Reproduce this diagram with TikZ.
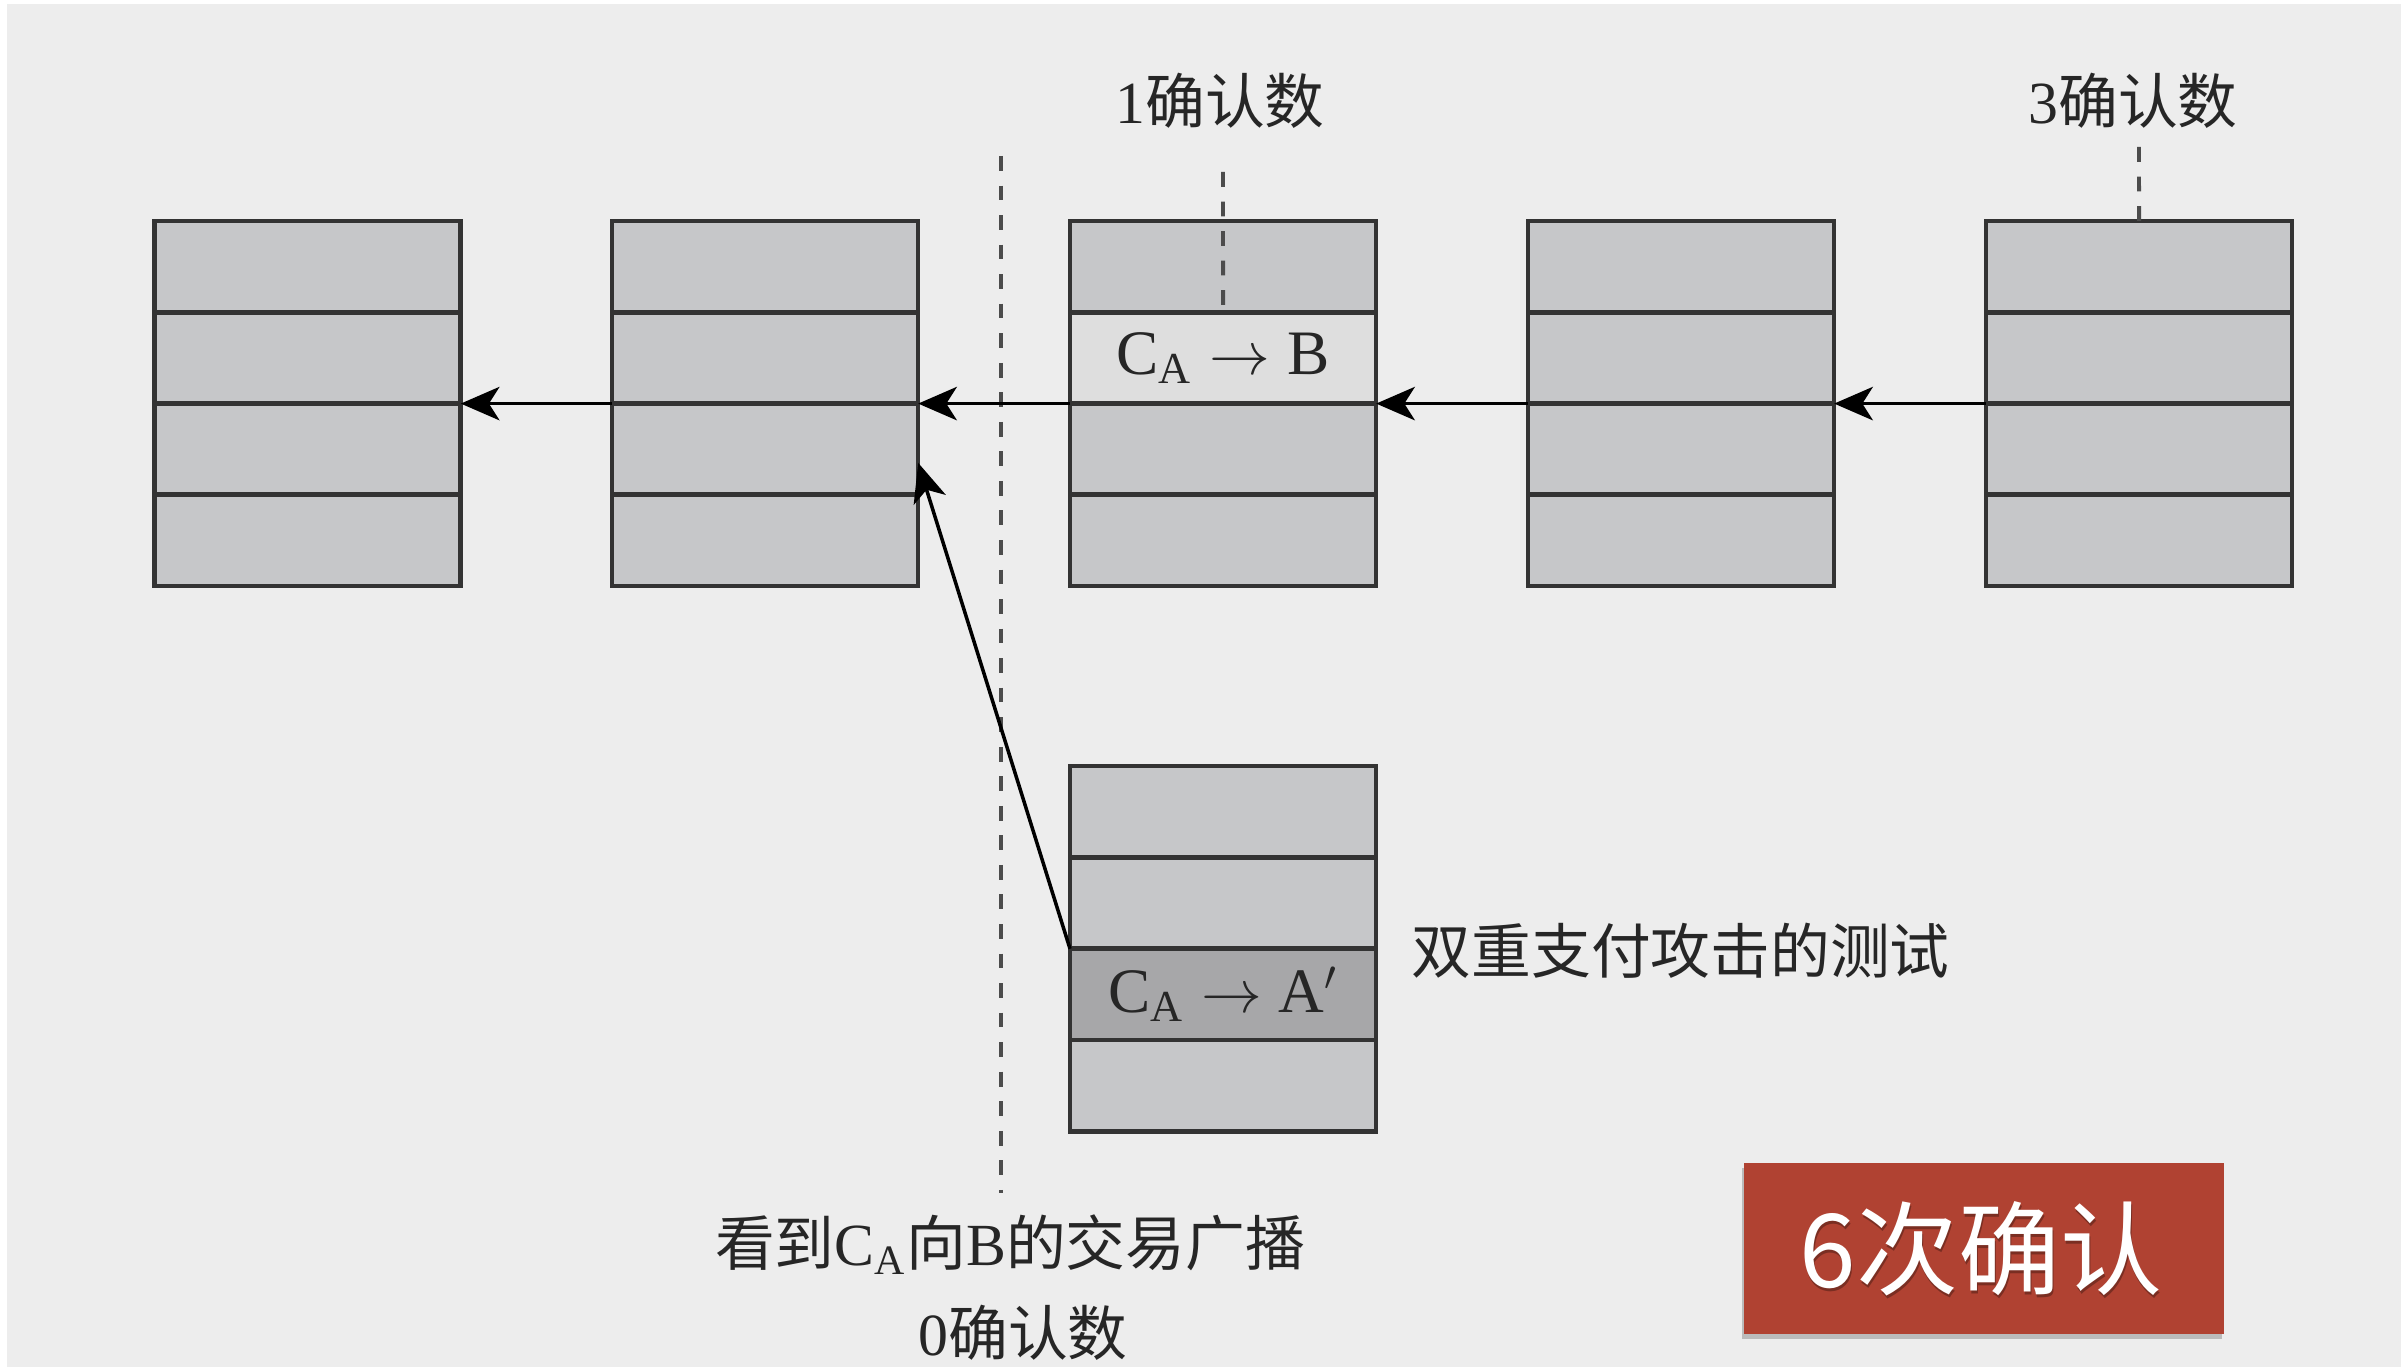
\documentclass[tikz,border=0pt]{standalone}
\usepackage{fontspec}
\setmainfont{Liberation Serif}
\newfontfamily\cjk{Noto Sans CJK SC}
\usetikzlibrary{arrows.meta,calc,shadows}
\definecolor{bg}{HTML}{EDEDED}
\definecolor{cellfill}{HTML}{C6C7C9}
\definecolor{cellhi}{HTML}{DEDEDE}
\definecolor{celldark}{HTML}{A7A7A9}
\definecolor{edge}{HTML}{333333}
\definecolor{brick}{HTML}{B04232}
\begin{document}
\begin{tikzpicture}[x=0.01cm,y=-0.01cm,
  cell/.style={draw=edge,line width=1.3pt,fill=cellfill,minimum width=3.06cm,minimum height=0.913cm,inner sep=0pt,outer sep=0pt,anchor=north west},
  link/.style={draw=black,line width=1pt,-{Stealth[length=11pt,width=9.5pt,inset=3pt]}},
  dashline/.style={draw=black!70,line width=1.1pt,dash pattern=on 4.2pt off 4.2pt},
  lbl/.style={font=\fontsize{17}{20}\selectfont,text=black!85,inner sep=0pt},
  celltxt/.style={font=\fontsize{18}{20}\selectfont,text=black!85}
]
\useasboundingbox (0,0) rectangle (2405,1367);
\fill[white] (0,0) rectangle (2405,1367);
\fill[bg] (7,4) rectangle (2401,1367);

% blocks of the chain
\foreach \n/\x in {b1/154.6,b2/612,b4/1528,b5/1986} {
  \foreach \k in {1,...,4}
    \node[cell] (\n-\k) at (\x,{221+(\k-1)*91.25}) {};
}
\node[cell] (b3-1) at (1070,221) {};
\node[cell,fill=cellhi,celltxt] (b3-2) at (1070,312.25) {$\mathrm{C}_{\mathrm{A}}\rightarrow\mathrm{B}$};
\node[cell] (b3-3) at (1070,403.5) {};
\node[cell] (b3-4) at (1070,494.75) {};

% attacker block
\node[cell] (b6-1) at (1070,766) {};
\node[cell] (b6-2) at (1070,857.4) {};
\node[cell,fill=celldark,celltxt] (b6-3) at (1070,948.8) {$\mathrm{C}_{\mathrm{A}}\rightarrow\mathrm{A}'$};
\node[cell] (b6-4) at (1070,1040.2) {};

% divider
\coordinate (vtop) at (1001,156);
\coordinate (vbot) at (1001,1193);
\draw[dashline] (vtop) -- (vbot);

% chain links
\draw[link] (b2-2.south west) -- (b1-2.south east);
\draw[link] (b3-2.south west) -- (b2-2.south east);
\draw[link] (b4-2.south west) -- (b3-2.south east);
\draw[link] (b5-2.south west) -- (b4-2.south east);
\draw[link] (b6-3.north west) -- ($(b2-3.north east)!0.65!(b2-3.south east)$);

% labels
\node[lbl] (l1) at (1220,101) {1{\cjk 确认数}};
\coordinate (d1) at (1223,172);
\draw[dashline] (d1) -- (b3-2.north);
\node[lbl] (l3) at (2133,101) {3{\cjk 确认数}};
\coordinate (d3) at (2139,147);
\draw[dashline] (d3) -- (b5-1.north);

\node[lbl,anchor=west] (ltest) at (1411,951) {\cjk 双重支付攻击的测试};
\node[lbl] (lsee) at (1010,1245) {{\cjk 看到}C\textsubscript{A}{\cjk 向}B{\cjk 的交易广播}};
\node[lbl] (lzero) at (1023,1333) {0{\cjk 确认数}};

% red badge
\node[fill=brick,minimum width=4.8cm,minimum height=1.71cm,inner sep=0pt,anchor=north west,
  drop shadow={shadow xshift=-0.6pt,shadow yshift=-1.6pt,opacity=0.45}] (six) at (1743,1162) {};
\node[text=black,opacity=0.3,font=\cjk\fontsize{29}{32}\selectfont] (sixsh) at (1982,1252) {6次确认};
\node[text=white,font=\cjk\fontsize{29}{32}\selectfont] (sixt) at (1981,1249) {6次确认};
\end{tikzpicture}
\end{document}
